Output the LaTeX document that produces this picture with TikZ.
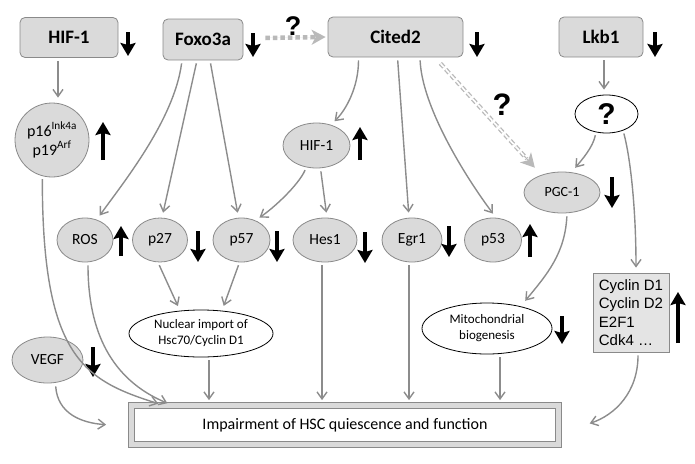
\documentclass[tikz,border=0pt]{standalone}
\usepackage{fontspec}
\setmainfont{Carlito}
\newfontfamily\arialfont{Liberation Sans}
\usepackage{tikz}
\usetikzlibrary{arrows.meta, shapes.geometric, calc}
\definecolor{boxfill}{RGB}{218,218,218}
\definecolor{boxline}{RGB}{138,138,138}
\definecolor{cycfill}{RGB}{228,228,228}
\definecolor{linkgray}{RGB}{140,140,140}
\definecolor{hintgray}{RGB}{185,185,185}

\begin{document}
\begin{tikzpicture}[x=1pt, y=-1pt]
        \tikzstyle{gene} = [rectangle, draw=boxline, fill=boxfill, line width=0.8pt, rounded corners=5pt, minimum height=40pt, font=\bfseries\fontsize{19}{22}\selectfont]
        \tikzstyle{mol} = [ellipse, draw=boxline, fill=boxfill, line width=0.8pt, inner sep=0pt, minimum height=44pt, font=\fontsize{15.5}{18}\selectfont]
        \tikzstyle{proc} = [ellipse, draw=black, fill=white, line width=0.8pt, inner sep=0pt, align=center, font=\fontsize{13}{16}\selectfont]
        \tikzstyle{qmark} = [font=\arialfont\bfseries\fontsize{27}{27}\selectfont]
        \tikzstyle{link} = [draw=linkgray, line width=1.4pt, shorten <=3pt, shorten >=5pt, -{Straight Barb[length=7pt,width=10pt]}]
        \tikzstyle{trend} = [line width=3.2pt, -{Stealth[length=13pt,width=15pt,inset=2pt]}]
        \tikzstyle{hint} = [draw=hintgray, fill=hintgray]
        \tikzstyle{hinthead} = [hint, line width=1pt, -{Stealth[length=14pt,width=15pt,inset=4pt]}]

        \useasboundingbox (0,0) rectangle (695,463);

        % top row
        \node [gene, minimum width=98pt] (hifA) at (69,37.5) {HIF-1};
        \node [gene, minimum width=80pt, minimum height=41pt] (foxo) at (203,39.5) {Foxo3a};
        \node [gene, minimum width=135pt] (cited) at (395.5,37) {Cited2};
        \node [gene, minimum width=84pt] (lkb) at (601,37) {Lkb1};
        \node [qmark] (q1) at (293,26) {?};

        % second row
        \node [mol, circle, minimum size=74pt, align=center, font=\fontsize{16}{19}\selectfont] (p16) at (52,140) {p16\textsuperscript{Ink4a}\\p19\textsuperscript{Arf}};
        \node [mol, minimum width=67pt, minimum height=45pt] (hifB) at (316.5,145.5) {HIF-1};
        \node [ellipse, draw=black, fill=white, line width=0.8pt, inner sep=0pt, minimum width=63pt, minimum height=38pt, qmark, font=\arialfont\bfseries\fontsize{30}{30}\selectfont] (unk) at (606.5,114) {?};
        \node [mol, minimum width=76pt, minimum height=41pt, font=\fontsize{14}{16}\selectfont] (pgc) at (562,192.5) {PGC-1};
        \node [qmark, font=\arialfont\bfseries\fontsize{31}{31}\selectfont] (q2) at (502,105) {?};

        % third row
        \node [mol, minimum width=56pt] (ros) at (85,240) {ROS};
        \node [mol, minimum width=55pt] (p27) at (160,240) {p27};
        \node [mol, minimum width=57pt] (p57) at (241.5,240) {p57};
        \node [mol, minimum width=64pt] (hes) at (325,240) {Hes1};
        \node [mol, minimum width=60pt] (egr) at (412,240) {Egr1};
        \node [mol, minimum width=57pt] (p53) at (493,240) {p53};

        % processes
        \node [proc, minimum width=144pt, minimum height=47pt] (nuc) at (201,333.5) {Nuclear import of\\Hsc70/Cyclin D1};
        \node [proc, minimum width=130pt, minimum height=51pt] (mito) at (487,328.5) {Mitochondrial\\biogenesis};
        \node [rectangle, draw=boxline, fill=cycfill, line width=0.8pt, minimum width=76pt, minimum height=79pt, inner sep=3pt, align=left, font=\arialfont\fontsize{15}{18.3}\selectfont] (cyc) at (631,312.5) {Cyclin D1\\Cyclin D2\\E2F1\\Cdk4 \dots};
        \node [mol, minimum width=71pt, minimum height=46pt] (vegf) at (47.5,360) {VEGF};
        \node [rectangle, draw=boxline, line width=0.8pt, double=boxfill, double distance=5.5pt, fill=white, minimum width=427pt, minimum height=39pt, font=\fontsize{16}{18}\selectfont] (imp) at (345,425) {Impairment of HSC quiescence and function};

        % up and down
        \draw [trend] (128,32) -- (128,56);
        \draw [trend] (253,33) -- (253,57);
        \draw [trend] (477,32) -- (477,57);
        \draw [trend] (655,32) -- (655,57);
        \draw [trend] (103,160) -- (103,122);
        \draw [trend] (360,160) -- (360,127);
        \draw [trend] (612,177) -- (612,208);
        \draw [trend] (121,256) -- (121,226);
        \draw [trend] (198,231) -- (198,262);
        \draw [trend] (277,231) -- (277,262);
        \draw [trend] (365,232) -- (365,263);
        \draw [trend] (449,226) -- (449,257);
        \draw [trend] (530,257) -- (530,224);
        \draw [trend] (562,316) -- (562,344);
        \draw [trend] (678,343) -- (678,292);
        \draw [trend] (93,347) -- (93,377);

        % uncertain links
        \draw [hint, line width=4.5pt, dash pattern=on 4.5pt off 3pt, -{Stealth[length=14pt,width=15pt,inset=4pt]}] ([xshift=22pt,yshift=1.5pt]foxo.east) -- ([xshift=-2pt]cited.west);
        \coordinate (dshA) at ([xshift=-23pt,yshift=-6pt]cited.south east);
        \coordinate (dshB) at ([yshift=10pt]pgc.north west);
        \draw [draw=hintgray, line width=1.3pt, double=white, double distance=1.6pt, dash pattern=on 5pt off 3pt] (dshA) -- ($(dshB)!12pt!(dshA)$);
        \draw [hinthead] ($(dshB)!16pt!(dshA)$) -- (dshB);

        % links
        \draw [link] ([xshift=-11pt]hifA.south) -- ([xshift=6pt]p16.north);
        \draw [link] ([xshift=-21pt]foxo.south) .. controls +(-8,60) and +(25,-35) .. (ros.60);
        \draw [link] ([xshift=-6pt]foxo.south) -- ([xshift=2pt]p27.north);
        \draw [link] ([xshift=7pt]foxo.south) -- ([xshift=-3pt]p57.north);
        \draw [link] ([xshift=-37pt]cited.south) .. controls +(0,30) and +(15,-15) .. (hifB.55);
        \draw [link] ([xshift=2pt]cited.south) -- ([xshift=-3pt]egr.north);
        \draw [link] ([xshift=24.5pt]cited.south) .. controls +(2,50) and +(-30,-40) .. ([xshift=3pt]p53.north);
        \draw [link] (hifB.-115) .. controls +(-8,18) and +(18,-12) .. (p57.55);
        \draw [link] ([xshift=4pt]hifB.south) -- ([xshift=2pt]hes.north);
        \draw [link] ([xshift=3pt]lkb.south) -- ([xshift=-2.5pt]unk.north);
        \draw [link] (unk.-120) .. controls +(-3,15) and +(10,-12) .. ([xshift=10pt]pgc.north);
        \draw [link] (unk.-45) .. controls +(8,30) and +(0,-60) .. ([xshift=5pt]cyc.north);
        \draw [link] ([xshift=5pt]pgc.south) .. controls +(-2,40) and +(25,-30) .. ([xshift=35pt,yshift=-2pt]mito.north);
        \draw [link] ([xshift=-2pt]p27.south) -- ([xshift=-21pt,yshift=-1pt]nuc.north);
        \draw [link] ([xshift=-2pt]p57.south) -- ([xshift=21pt,yshift=-1pt]nuc.north);
        \draw [link] ([xshift=8pt]nuc.south) -- ([xshift=8pt]nuc.south |- imp.north);
        \draw [link] ([xshift=-3pt]hes.south) -- ([xshift=-3pt]hes.south |- imp.north);
        \draw [link] ([xshift=-3pt]egr.south) -- ([xshift=-3pt]egr.south |- imp.north);
        \draw [link] ([xshift=13pt]mito.south) -- ([xshift=13pt]mito.south |- imp.north);
        \draw [link] ([xshift=3pt]ros.south) .. controls +(0,70) and +(-60,-25) .. ([xshift=-173pt]imp.north);
        \draw [link] (p16.-105) .. controls +(0,180) and +(-80,-25) .. ([xshift=-182pt]imp.north);
        \draw [link] ([xshift=8pt]vegf.south) .. controls +(2,30) and +(-30,-2) .. ([xshift=-20pt]imp.west);
        \draw [link] ([xshift=7pt]cyc.south) .. controls +(0,40) and +(30,-10) .. ([xshift=26pt]imp.east);
    \end{tikzpicture}
\end{document}
